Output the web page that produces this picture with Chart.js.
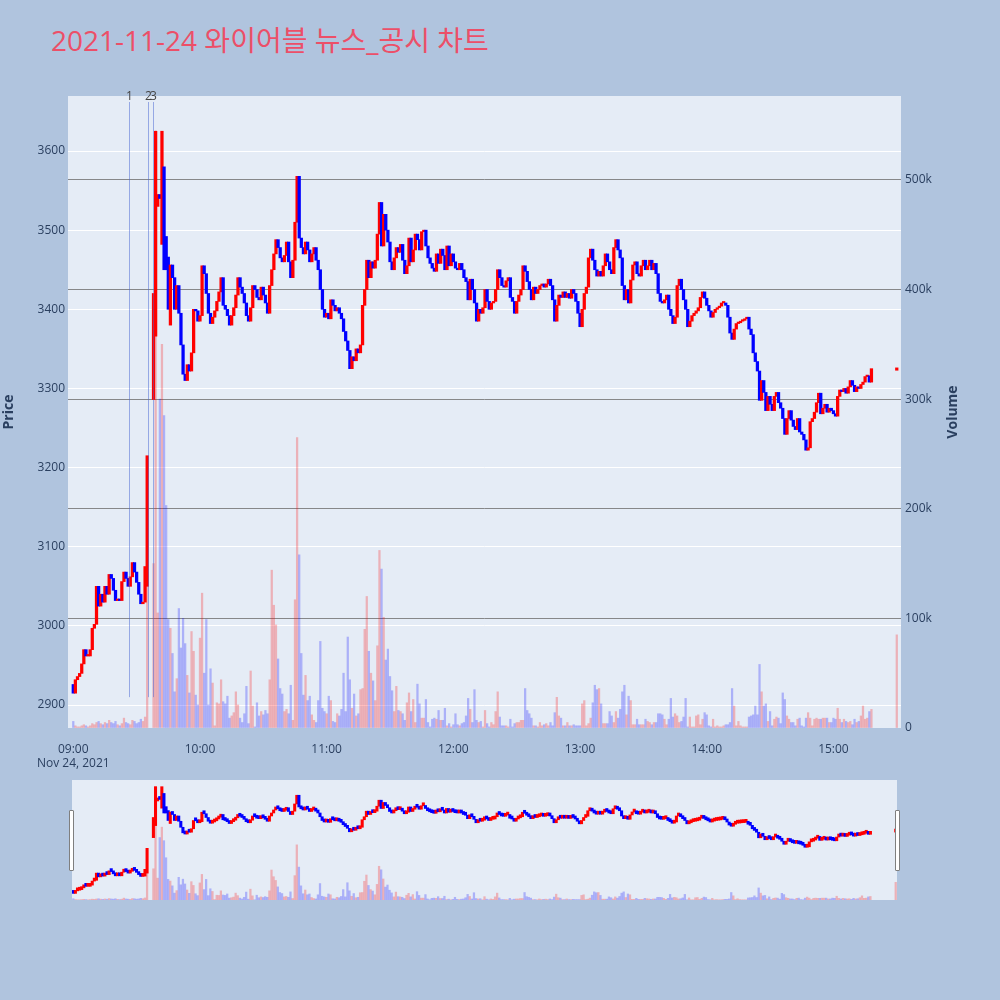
<!DOCTYPE html>
<html>
<head>
<meta charset="utf-8">
<script src="https://cdn.jsdelivr.net/npm/chart.js@4.4.0/dist/chart.umd.min.js"></script>
<style>
    html, body { margin: 0; padding: 0; background: #b0c4de; }
    #wrap { position: relative; width: 1000px; height: 1000px; overflow: hidden; }
    #title { position: absolute; left: 51px; top: 25px; height: 30px; line-height: 30px; white-space: nowrap;
             font-size: 28px; color: #ec4f68; font-family: "Open Sans", "Noto Sans CJK KR", sans-serif; }
    #main { position: absolute; left: 0; top: 0; }
    #slider { position: absolute; left: 72px; top: 780px; }
    .handle { position: absolute; top: 810px; width: 5px; height: 61px; box-sizing: border-box;
              background: #fff; border: 1px solid #7f7f7f; border-radius: 1px; }
</style>
</head>
<body>
<div id="wrap">
    <div id="title">2021-11-24 와이어블 뉴스_공시 차트</div>
    <canvas id="main" width="1000" height="770" style="width:1000px;height:770px"></canvas>
    <canvas id="slider" width="825" height="120" style="width:825px;height:120px"></canvas>
    <div class="handle" style="left:69px"></div>
    <div class="handle" style="left:895px"></div>
</div>
<script>
    // 1분봉 종가 (09:00 = 0분 ... 15:30 = 390분), 거래 없는 구간은 null
    const closes = [
        2915, 2932, 2936, 2940, 2952, 2970, 2962, 2962, 2970, 2997,
        3002, 3050, 3025, 3040, 3030, 3050, 3040, 3065, 3060, 3045,
        3032, 3034, 3032, 3056, 3068, 3060, 3050, 3062, 3080, 3068,
        3055, 3040, 3028, 3030, 3075, 3215, null, null, 3420, 3625,
        3545, 3540, 3625, 3450, 3450, 3400, 3456, 3440, 3400, 3430,
        3395, 3355, 3318, 3310, 3330, 3322, 3345, 3400, 3398, 3385,
        3392, 3455, 3445, 3420, 3395, 3382, 3390, 3398, 3410, 3422,
        3440, 3405, 3400, 3392, 3380, 3392, 3402, 3418, 3440, 3428,
        3420, 3408, 3392, 3385, 3402, 3430, 3425, 3415, 3412, 3428,
        3418, 3408, 3395, 3430, 3450, 3470, 3488, 3478, 3465, 3460,
        3468, 3485, 3460, 3440, 3462, 3510, 3568, 3490, 3478, 3470,
        3485, 3475, 3460, 3470, 3478, 3462, 3450, 3425, 3400, 3390,
        3395, 3388, 3412, 3405, 3398, 3402, 3395, 3388, 3372, 3360,
        3348, 3325, 3340, 3335, 3350, 3345, 3355, 3405, 3425, 3462,
        3440, 3460, 3452, 3462, 3495, 3535, 3480, 3520, 3500, 3485,
        3460, 3450, 3465, 3478, 3472, 3482, 3462, 3445, 3455, 3490,
        3460, 3475, 3495, 3488, 3475, 3498, 3500, 3480, 3465, 3458,
        3452, 3448, 3470, 3458, 3476, 3468, 3450, 3480, 3455, 3470,
        3460, 3452, 3450, 3458, 3450, 3440, 3435, 3412, 3438, 3425,
        3408, 3385, 3400, 3395, 3402, 3425, 3410, 3400, 3408, 3410,
        3425, 3450, 3440, 3430, 3428, 3436, 3440, 3415, 3410, 3395,
        3410, 3418, 3425, 3455, 3448, 3435, 3425, 3412, 3428, 3420,
        3425, 3430, 3432, 3428, 3432, 3438, 3430, 3412, 3385, 3405,
        3418, 3415, 3422, 3415, 3420, 3414, 3425, 3420, 3410, 3395,
        3378, 3400, 3420, 3428, 3465, 3476, 3462, 3450, 3442, 3448,
        3442, 3455, 3470, 3460, 3450, 3445, 3478, 3488, 3475, 3465,
        3430, 3412, 3425, 3408, 3437, 3456, 3460, 3445, 3442, 3455,
        3462, 3450, 3455, 3462, 3450, 3458, 3445, 3420, 3410, 3408,
        3412, 3418, 3400, 3392, 3382, 3390, 3430, 3438, 3425, 3412,
        3400, 3378, 3385, 3392, 3395, 3398, 3402, 3415, 3422, 3414,
        3405, 3398, 3390, 3396, 3400, 3402, 3404, 3408, 3408, 3405,
        3390, 3370, 3362, 3375, 3382, 3383, 3385, 3386, 3388, 3390,
        3375, 3368, 3345, 3334, 3322, 3285, 3310, 3295, 3272, 3290,
        3280, 3272, 3290, 3295, 3282, 3275, 3262, 3242, 3262, 3272,
        3260, 3252, 3248, 3262, 3245, 3242, 3235, 3222, 3225, 3258,
        3262, 3270, 3282, 3294, 3268, 3275, 3280, 3270, 3275, 3272,
        3268, 3265, 3290, 3298, 3296, 3300, 3294, 3302, 3310, 3304,
        3296, 3302, 3300, 3305, 3308, 3315, 3316, 3308, 3325, null,
        null, null, null, null, null, null, null, null, null, null,
        3326
    ];

    // 갭이 있는 봉의 시가 (나머지는 직전 종가에서 시작)
    const gapOpens = { 0: 2926, 35: 3050, 38: 3286, 39: 3366, 40: 3530, 42: 3482, 43: 3580, 44: 3492, 45: 3466, 46: 3380, 390: 3323 };

    // 1분 거래량 (천 주)
    const volumes = [
        6, 2, 1, 1, 2, 3, 2, 1, 2, 4,
        3, 5, 6, 4, 3, 5, 4, 7, 5, 4,
        6, 3, 2, 4, 9, 5, 4, 3, 7, 6,
        4, 5, 8, 6, 10, 129, 0, 0, 150, 545,
        105, 300, 350, 285, 203, 99, 91, 68, 33, 45,
        109, 73, 100, 77, 48, 32, 88, 70, 30, 21,
        82, 123, 50, 99, 21, 54, 41, 2, 23, 22,
        44, 24, 22, 29, 9, 11, 14, 33, 21, 9,
        5, 13, 38, 4, 52, 20, 1, 23, 11, 15,
        12, 16, 13, 44, 144, 112, 94, 63, 36, 31,
        15, 17, 13, 39, 7, 117, 265, 158, 68, 30,
        48, 25, 29, 12, 7, 5, 25, 79, 18, 15,
        13, 29, 25, 6, 5, 13, 11, 17, 50, 15,
        83, 44, 18, 31, 11, 13, 35, 36, 90, 120,
        70, 50, 43, 25, 75, 162, 145, 101, 62, 72,
        47, 34, 15, 38, 16, 15, 13, 7, 23, 32,
        15, 26, 5, 40, 22, 9, 9, 26, 5, 1,
        8, 9, 8, 16, 7, 7, 18, 2, 4, 1,
        3, 13, 3, 2, 4, 5, 11, 27, 17, 5,
        35, 7, 5, 6, 1, 16, 4, 1, 5, 3,
        15, 33, 10, 2, 2, 2, 1, 8, 1, 4,
        5, 5, 7, 7, 36, 16, 13, 9, 2, 2,
        1, 5, 2, 3, 4, 2, 5, 2, 14, 28,
        11, 9, 2, 2, 5, 2, 2, 3, 2, 2,
        2, 22, 25, 2, 4, 9, 23, 39, 35, 36,
        22, 4, 4, 4, 15, 11, 5, 15, 9, 17,
        33, 39, 12, 29, 25, 3, 3, 8, 3, 3,
        3, 8, 6, 5, 3, 5, 5, 13, 13, 12,
        8, 3, 8, 27, 10, 13, 11, 5, 6, 10,
        27, 1, 10, 1, 1, 11, 12, 3, 8, 14,
        12, 2, 1, 8, 1, 2, 1, 1, 2, 3,
        3, 5, 36, 20, 2, 6, 2, 1, 1, 1,
        10, 11, 12, 20, 12, 58, 33, 20, 22, 6,
        15, 2, 8, 10, 9, 4, 32, 26, 11, 8,
        5, 5, 2, 8, 9, 2, 1, 9, 14, 9,
        2, 8, 9, 8, 8, 9, 9, 9, 5, 5,
        9, 8, 18, 8, 5, 8, 6, 5, 6, 3,
        8, 5, 6, 11, 20, 8, 9, 15, 17, 0,
        0, 0, 0, 0, 0, 0, 0, 0, 0, 0,
        85
    ];

    // 뉴스/공시 시점 (분) 과 표시 번호
    const eventMinutes = [26.5, 35.5, 37.9];
    const eventLabels = ['1', '2', '3'];

    const timeTicks = [0, 60, 120, 180, 240, 300, 360];
    const priceTicks = [2900, 3000, 3100, 3200, 3300, 3400, 3500, 3600];
    const volumeTicks = [0, 100, 200, 300, 400, 500];

    const FONT = '"Open Sans", "Noto Sans CJK KR", sans-serif';
    const TICK_COLOR = '#2a3f5f';
    const UP = '#ff0000', DOWN = '#0000ff';
    const UP_VOL = 'rgba(255,0,0,0.25)', DOWN_VOL = 'rgba(0,0,255,0.25)';

    // 시가: 갭 시가가 없으면 직전 체결 종가
    const opens = closes.map((c, i) => {
        if (c === null) return null;
        if (gapOpens[i] !== undefined) return gapOpens[i];
        let j = i - 1;
        while (j >= 0 && closes[j] === null) j--;
        return j >= 0 ? closes[j] : c;
    });

    const candleData = [], candleColors = [], volData = [], volColors = [];
    closes.forEach((c, i) => {
        if (c === null) return;
        const up = c >= opens[i];
        candleData.push({ x: i, y: [opens[i], c] });
        candleColors.push(up ? UP : DOWN);
        if (volumes[i] > 0) {
            volData.push({ x: i, y: volumes[i] });
            volColors.push(up ? UP_VOL : DOWN_VOL);
        }
    });

    function hhmm(m) {
        const h = 9 + Math.floor(m / 60), mm = m % 60;
        return String(h).padStart(2, '0') + ':' + String(mm).padStart(2, '0');
    }

    const plotBg = {
        id: 'plotBg',
        beforeDraw(chart) {
            const { ctx, chartArea: a } = chart;
            ctx.save();
            ctx.fillStyle = '#e5ecf6';
            ctx.fillRect(a.left, a.top, a.right - a.left, a.bottom - a.top);
            ctx.restore();
        }
    };

    const eventLines = {
        id: 'eventLines',
        afterDatasetsDraw(chart) {
            const { ctx, chartArea: a, scales } = chart;
            ctx.save();
            ctx.strokeStyle = 'rgba(70,100,210,0.5)';
            ctx.lineWidth = 1;
            ctx.fillStyle = '#444';
            ctx.font = '12px ' + FONT;
            ctx.textAlign = 'center';
            ctx.textBaseline = 'middle';
            eventMinutes.forEach((m, k) => {
                const x = Math.round(scales.x.getPixelForValue(m)) + 0.5;
                ctx.beginPath();
                ctx.moveTo(x, a.top + 6);
                ctx.lineTo(x, scales.y.getPixelForValue(2910));
                ctx.stroke();
                ctx.fillText(eventLabels[k], x, a.top + 1);
            });
            ctx.restore();
        }
    };

    const axisTitles = {
        id: 'axisTitles',
        afterDraw(chart) {
            const { ctx, chartArea: a } = chart;
            const mid = (a.top + a.bottom) / 2;
            ctx.save();
            ctx.fillStyle = TICK_COLOR;
            ctx.font = 'bold 14px ' + FONT;
            ctx.textAlign = 'center';
            ctx.textBaseline = 'middle';
            [['Price', 9], ['Volume', 953]].forEach(([t, x]) => {
                ctx.save();
                ctx.translate(x, mid);
                ctx.rotate(-Math.PI / 2);
                ctx.fillText(t, 0, 0);
                ctx.restore();
            });
            ctx.restore();
        }
    };

    const tickFont = { family: FONT, size: 12 };

    new Chart(document.getElementById('main'), {
        type: 'bar',
        data: {
            datasets: [
                { label: 'Price', data: candleData, yAxisID: 'y', backgroundColor: candleColors,
                  barThickness: 2.6, minBarLength: 1.5, grouped: false, order: 0 },
                { label: 'Volume', data: volData, yAxisID: 'y1', backgroundColor: volColors,
                  barThickness: 1.6, grouped: false, order: 1 }
            ]
        },
        options: {
            responsive: false,
            animation: false,
            layout: { padding: { top: 96, left: 0, right: 0, bottom: 0 } },
            plugins: { legend: { display: false }, tooltip: { enabled: false } },
            scales: {
                x: {
                    type: 'linear', min: -2.5, max: 392, offset: false,
                    grid: { display: false }, border: { display: false },
                    afterBuildTicks: s => { s.ticks = timeTicks.map(v => ({ value: v })); },
                    afterFit: s => { s.height = 42; },
                    ticks: {
                        color: TICK_COLOR, font: tickFont, maxRotation: 0, autoSkip: false, padding: 6,
                        callback: v => v === 0 ? [hhmm(v), 'Nov 24, 2021'] : hhmm(v)
                    }
                },
                y: {
                    position: 'left', min: 2871, max: 3669.5,
                    afterBuildTicks: s => { s.ticks = priceTicks.map(v => ({ value: v })); },
                    afterFit: s => { s.width = 68; },
                    grid: { color: '#ffffff', lineWidth: 1, drawTicks: false },
                    border: { display: false },
                    ticks: { color: TICK_COLOR, font: tickFont, padding: 3, callback: v => String(v) }
                },
                y1: {
                    position: 'right', min: 0, max: 576.6,
                    afterBuildTicks: s => { s.ticks = volumeTicks.map(v => ({ value: v })); },
                    afterFit: s => { s.width = 99; },
                    grid: {
                        color: c => c.tick && c.tick.value === 0 ? 'rgba(0,0,0,0)' : 'rgba(110,110,110,0.8)',
                        lineWidth: 1, drawTicks: false
                    },
                    border: { display: false },
                    ticks: { color: TICK_COLOR, font: tickFont, padding: 4, callback: v => v === 0 ? '0' : v + 'k' }
                }
            }
        },
        plugins: [plotBg, eventLines, axisTitles]
    });

    // 하단 범위 슬라이더 (전체 구간 미니 차트)
    new Chart(document.getElementById('slider'), {
        type: 'bar',
        data: {
            datasets: [
                { data: candleData, yAxisID: 'y', backgroundColor: candleColors,
                  barThickness: 2.4, minBarLength: 3, grouped: false, order: 0 },
                { data: volData, yAxisID: 'y1', backgroundColor: volColors,
                  barThickness: 1.6, grouped: false, order: 1 }
            ]
        },
        options: {
            responsive: false,
            animation: false,
            layout: { padding: 0 },
            plugins: { legend: { display: false }, tooltip: { enabled: false } },
            scales: {
                x: { type: 'linear', min: -0.6, max: 390.6, offset: false, display: false },
                y: { min: 2871, max: 3669.5, display: false },
                y1: { min: 0, max: 576.6, display: false }
            }
        },
        plugins: [plotBg]
    });
</script>
</body>
</html>
